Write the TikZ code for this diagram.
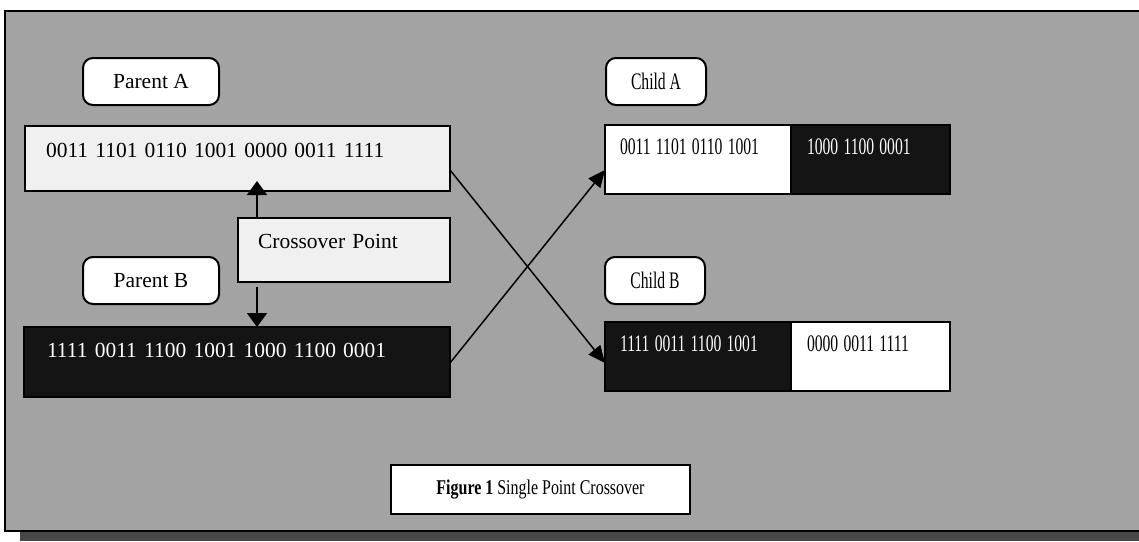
\documentclass[tikz,border=0pt]{standalone}
\usepackage{fontspec}
\setmainfont{Liberation Serif}
\usepackage{graphicx}
\usepackage{tikz}
\usetikzlibrary{positioning,arrows.meta,calc}

\definecolor{panelgray}{gray}{0.64}
\definecolor{shadowgray}{gray}{0.28}
\definecolor{bitdark}{gray}{0.08}
\definecolor{bitlight}{gray}{0.94}

% horizontally squeezed text, as in the child rows
\newcommand{\slim}[2][0.66]{\scalebox{#1}[1]{#2}}

\begin{document}
\begin{tikzpicture}[x=1pt, y=-1pt,
    every node/.style={inner sep=0pt, outer sep=0pt, anchor=north west},
    tag/.style={draw, line width=2pt, rounded corners=10pt, fill=white, minimum height=47pt},
    bits/.style={draw, line width=2pt, inner ysep=0pt, align=left},
    bigtext/.style={font=\fontsize{21.5}{24}\selectfont},
    slimtext/.style={font=\fontsize{23.7}{26}\selectfont},
    pointer/.style={-{Triangle[length=14pt,width=20pt]}, line width=1.8pt},
    swap/.style={-{Triangle[length=17pt,width=15pt]}, line width=1.5pt}]
    \useasboundingbox (0,0) rectangle (1139,541);

    % panel and its shadow
    \fill[shadowgray] (20,531) rectangle (1145,541);
    \draw[line width=2pt, fill=panelgray] (5,11) rectangle (1145,531);

    % parents
    \node[tag, bigtext, minimum width=136pt] (tagpa) at (83,58) {Parent A};
    \node[bits, bigtext, fill=bitlight, inner xsep=21pt, text width=383pt, text height=31pt, text depth=34pt] (pa) at (25,126) {0011 1101 0110 1001 0000 0011 1111};
    \node[bits, bigtext, fill=bitlight, inner xsep=20pt, text width=172pt, text height=30pt, text depth=34pt] (cross) at (238,218) {Crossover Point};
    \node[tag, bigtext, minimum width=136pt] (tagpb) at (83,257) {Parent B};
    \node[bits, bigtext, fill=bitdark, text=white, inner xsep=23pt, text width=380pt, text height=30pt, text depth=40pt] (pb) at (24,327) {1111 0011 1100 1001 1000 1100 0001};

    % children
    \node[tag, slimtext, minimum width=100pt] (tagca) at (606,58) {\slim{Child A}};
    \node[bits, slimtext, fill=white, inner xsep=15pt, text width=156pt, text height=29pt, text depth=40pt] (cal) at (605,125) {\slim{0011 1101 0110 1001}};
    \node[bits, slimtext, fill=bitdark, text=white, inner xsep=16pt, text width=127pt, text height=29pt, text depth=40pt, right=0pt of cal.north east, anchor=north west] (car) {\slim{1000 1100 0001}};
    \node[tag, slimtext, minimum width=100pt] (tagcb) at (605,257) {\slim{Child B}};
    \node[bits, slimtext, fill=bitdark, text=white, inner xsep=15pt, text width=156pt, text height=29pt, text depth=40pt] (cbl) at (605,322) {\slim{1111 0011 1100 1001}};
    \node[bits, slimtext, fill=white, inner xsep=16pt, text width=127pt, text height=29pt, text depth=40pt, right=0pt of cbl.north east, anchor=north west] (cbr) {\slim{0000 0011 1111}};

    % caption
    \node[draw, line width=2pt, fill=white, minimum width=299pt, minimum height=49pt, font=\fontsize{21}{24}\selectfont] (capt) at (391,465) {\slim[0.76]{\textbf{Figure 1} Single Point Crossover}};

    % crossover point markers
    \draw[pointer] ([xshift=19pt]cross.north west) -- ([xshift=19pt,yshift=10pt]cross.north west |- pa.south);
    \draw[pointer] ([xshift=19pt,yshift=-5pt]cross.south west) -- ([xshift=19pt]cross.south west |- pb.north);

    % swapped tails
    \draw[swap] ([yshift=21pt]pa.south east) -- ([yshift=28pt]cbl.south west);
    \draw[swap] ([yshift=34pt]pb.south east) -- ([yshift=24pt]cal.south west);
\end{tikzpicture}
\end{document}
